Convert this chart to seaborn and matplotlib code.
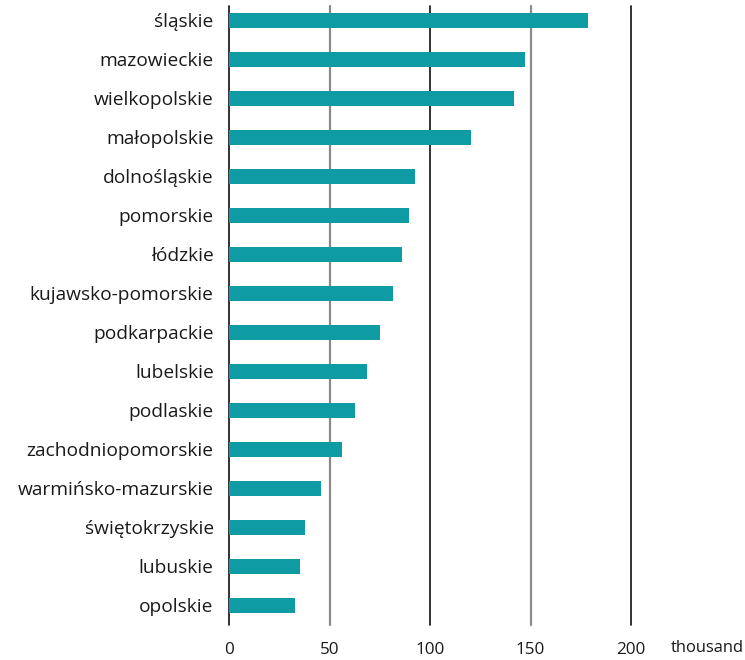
import matplotlib
matplotlib.use("Agg")
import matplotlib.pyplot as plt
import seaborn as sns
import pandas as pd

regions = ["śląskie", "mazowieckie", "wielkopolskie", "małopolskie", "dolnośląskie",
           "pomorskie", "łódzkie", "kujawsko-pomorskie", "podkarpackie", "lubelskie",
           "podlaskie", "zachodniopomorskie", "warmińsko-mazurskie", "świętokrzyskie",
           "lubuskie", "opolskie"]
values = [178.5, 147.1, 141.6, 120.2, 92.4, 89.4, 85.9, 81.4, 75.0, 68.5,
          62.5, 56.1, 45.6, 37.7, 35.2, 32.7]
x_ticks = [0, 50, 100, 150, 200]
unit_label = "thousand"

sns.set_theme(style="white")
plt.rcParams['font.family'] = ['Open Sans', 'DejaVu Sans']

df = pd.DataFrame({"region": regions, "value": values})

fig = plt.figure(figsize=(7.45, 6.6), dpi=100)
ax = fig.add_axes([229 / 745, 1 - 625 / 660, (631 - 229) / 745, 619 / 660])

for t in x_ticks:
    col = "#222222" if t % 100 == 0 else "#8a8a8a"
    lw = 1.3 if t % 100 == 0 else 1.6
    ax.axvline(t, color=col, lw=lw, zorder=0, clip_on=False)

sns.barplot(data=df, x="value", y="region", orient="h", color="#0F9BA4",
            saturation=1, width=0.37, linewidth=0, ax=ax, zorder=2)

ax.set_xlim(0, 200)
ax.set_ylim(15.5, -0.37)
ax.set_xticks(x_ticks)
ax.set_xticklabels([str(t) for t in x_ticks])
ax.set_xlabel("")
ax.set_ylabel("")
ax.tick_params(axis="x", length=0, pad=12, labelsize=12.3, colors="#1a1a1a")
ax.tick_params(axis="y", length=0, pad=11, labelsize=13.8, colors="#1a1a1a")
for s in ax.spines.values():
    s.set_visible(False)

fig.text(671 / 745, 1 - 648 / 660, unit_label, ha="left", va="center",
         fontsize=11.9, color="#1a1a1a")

fig.savefig("out.png", dpi=100)
